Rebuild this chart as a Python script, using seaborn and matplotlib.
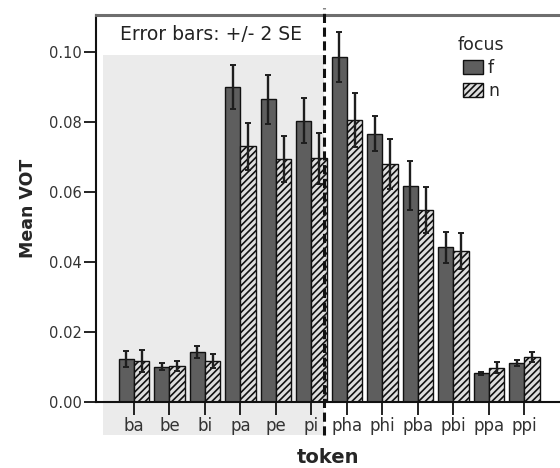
import pandas as pd                      # data handling
import matplotlib.pyplot as plt          # base plotting
import seaborn as sns                    # bar drawing
from matplotlib.patches import Rectangle, Patch


# chart values
tokens = ['ba', 'be', 'bi', 'pa', 'pe', 'pi', 'pha', 'phi', 'pba', 'pbi', 'ppa', 'ppi']
focus_levels = ['f', 'n']
mean_f = [0.0123, 0.0101, 0.0143, 0.0900, 0.0866, 0.0805, 0.0986, 0.0767, 0.0619, 0.0442, 0.0082, 0.0111]
mean_n = [0.0117, 0.0103, 0.0117, 0.0732, 0.0695, 0.0697, 0.0806, 0.0681, 0.0548, 0.0432, 0.0098, 0.0128]
se2_f = [0.0023, 0.0010, 0.0017, 0.0063, 0.0070, 0.0064, 0.0071, 0.0050, 0.0069, 0.0045, 0.0005, 0.0009]
se2_n = [0.0032, 0.0015, 0.0020, 0.0067, 0.0066, 0.0072, 0.0077, 0.0071, 0.0066, 0.0051, 0.0016, 0.0015]
y_ticks = [0.00, 0.02, 0.04, 0.06, 0.08, 0.10]

df = pd.DataFrame({
    'token': tokens * 2,
    'focus': ['f'] * len(tokens) + ['n'] * len(tokens),
    'vot': mean_f + mean_n,
})

sns.set_style("white")
plt.rcParams['font.family'] = ['DejaVu Sans']
plt.rcParams['hatch.linewidth'] = 1.2

fig = plt.figure(figsize=(5.6, 4.68), dpi=100)
ax = fig.add_axes([96 / 560, 1 - 402 / 468, 1 - 96 / 560, (402 - 15) / 468])

dark, light = '#5e5e5e', '#dedede'

sns.barplot(
    data=df, x='token', y='vot', hue='focus',
    order=tokens, hue_order=focus_levels,
    palette={'f': dark, 'n': light},
    width=0.85, errorbar=None, edgecolor='#111111', linewidth=1.0,
    legend=False, ax=ax, zorder=2,
)

# hatch the 'n' bars, then add the +/- 2 SE bars on top
for cont, errs, lvl in zip(ax.containers, [se2_f, se2_n], focus_levels):
    xs, ys = [], []
    for bar in cont:
        if lvl == 'n':
            bar.set_hatch('/////')
        xs.append(bar.get_x() + bar.get_width() / 2)
        ys.append(bar.get_height())
    ax.errorbar(xs, ys, yerr=errs, fmt='none', ecolor='#1e1e1e',
                elinewidth=1.7, capsize=2.5, capthick=1.4, zorder=3)

# grey panel behind the b/p tokens, and the dashed divider
ax.add_patch(Rectangle((-0.87, -0.0094), 5.36 + 0.87, 0.0993 + 0.0094,
                       facecolor='#ebebeb', edgecolor='none',
                       transform=ax.transData, clip_on=False, zorder=0))
ax.plot([5.36, 5.36], [-0.0094, 0.1127], color='#111111', lw=2.2,
        ls=(0, (3, 1.5)), clip_on=False, zorder=4)

ax.text(-0.38, 0.1051, 'Error bars: +/- 2 SE', fontsize=13.5,
        color='#222222', ha='left', va='center')

ax.set_xlim(-1.07, 12.0)
ax.set_ylim(0, 0.1107)
ax.set_yticks(y_ticks)
ax.set_yticklabels([f'{v:.2f}' for v in y_ticks])

ax.tick_params(axis='y', direction='out', length=9, width=1.3, pad=1,
               labelsize=10.5, labelcolor='#333333', left=True, color='#111111')
ax.tick_params(axis='x', direction='out', length=9, width=1.3, pad=1.5,
               labelsize=12, labelcolor='#333333', bottom=True, color='#111111')

ax.set_xlabel('token', fontsize=14, fontweight='bold', labelpad=10)
ax.set_ylabel('Mean VOT', fontsize=12.5, fontweight='bold', labelpad=9)

for side in ['left', 'bottom']:
    ax.spines[side].set_color('#111111')
    ax.spines[side].set_linewidth(1.5)
ax.spines['top'].set_color('#6e6e6e')
ax.spines['top'].set_linewidth(2.2)
ax.spines['right'].set_visible(False)

handles = [
    Patch(facecolor=dark, edgecolor='#111111', label='f'),
    Patch(facecolor=light, edgecolor='#111111', hatch='/////', label='n'),
]
fig.legend(handles=handles, title='focus', loc='upper center',
           bbox_to_anchor=(481 / 560, 1 - 27 / 468), frameon=False,
           fontsize=12.5, title_fontsize=12.5, borderpad=0,
           handlelength=1.15, handleheight=0.86, handletextpad=0.3,
           labelspacing=0.3)

fig.savefig('out.png', dpi=100)
